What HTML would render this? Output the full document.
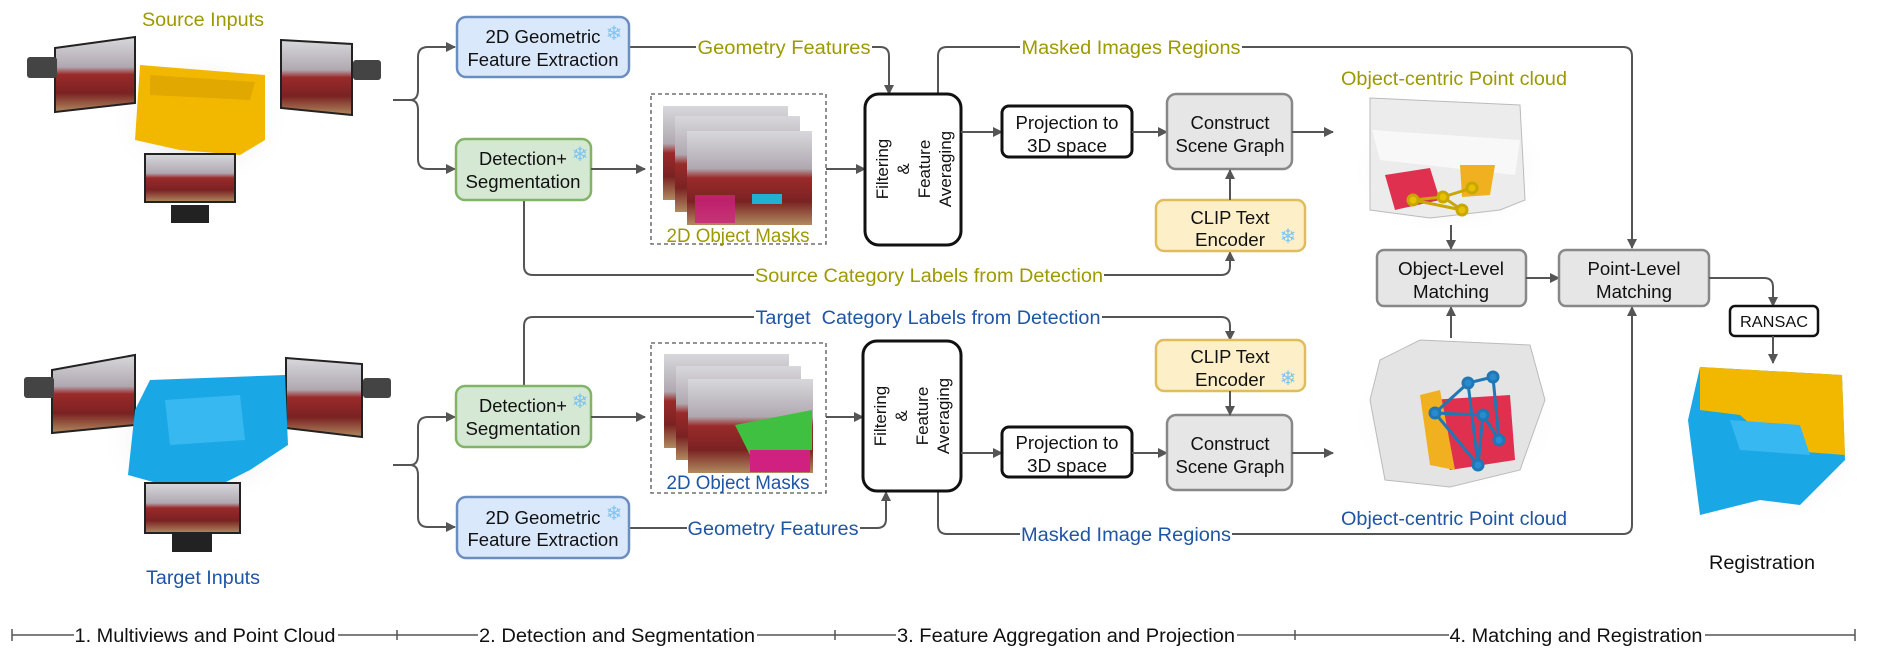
<!DOCTYPE html>
<html><head><meta charset="utf-8"><style>
html,body{margin:0;padding:0;background:#fff;}
svg{display:block;font-family:"Liberation Sans",Arial,sans-serif;}
.bx{font-size:18px;fill:#111;text-anchor:middle;}
.lb{font-size:19px;text-anchor:middle;}
.ol{fill:#9c9a00;}
.bl{fill:#1f55a5;}
.ln{fill:none;stroke:#555;stroke-width:2;}
.sf{font-size:20px;fill:#7fc4f0;text-anchor:middle;}
</style></head><body>
<svg width="1903" height="652" viewBox="0 0 1903 652" xmlns="http://www.w3.org/2000/svg">
<defs>
<marker id="a" markerWidth="10" markerHeight="10" refX="9" refY="5" orient="auto" markerUnits="userSpaceOnUse">
<path d="M0,0 L10,5 L0,10 z" fill="#555"/></marker>
<linearGradient id="photo" x1="0" y1="0" x2="0" y2="1">
<stop offset="0" stop-color="#d8d8dc"/><stop offset="0.4" stop-color="#b0a8b0"/><stop offset="0.5" stop-color="#9a2a2a"/><stop offset="0.75" stop-color="#7a2222"/><stop offset="1" stop-color="#b08a60"/></linearGradient>
<radialGradient id="sh"><stop offset="0" stop-color="#999" stop-opacity="0.6"/><stop offset="1" stop-color="#fff" stop-opacity="0"/></radialGradient>
</defs>

<!-- Source inputs -->
<text x="203" y="26" class="lb ol" textLength="122" lengthAdjust="spacingAndGlyphs">Source Inputs</text>
<ellipse cx="200" cy="120" rx="90" ry="70" fill="url(#sh)"/>
<polygon points="55,48 135,37 135,103 55,112" fill="url(#photo)" stroke="#222" stroke-width="2"/>
<rect x="27" y="57" width="30" height="21" rx="3" fill="#444"/>
<polygon points="281,40 352,44 352,115 281,108" fill="url(#photo)" stroke="#222" stroke-width="2"/>
<rect x="353" y="60" width="28" height="20" rx="3" fill="#444"/>
<polygon points="140,65 265,75 265,140 240,155 180,150 135,140" fill="#f2b800"/>
<polygon points="150,75 255,82 250,100 150,95" fill="#e0a800"/>
<rect x="145" y="154" width="90" height="48" fill="url(#photo)" stroke="#222" stroke-width="2"/>
<rect x="171" y="205" width="38" height="18" fill="#222"/>

<!-- Target inputs -->
<text x="203" y="584" class="lb bl" textLength="114" lengthAdjust="spacingAndGlyphs">Target Inputs</text>
<ellipse cx="200" cy="440" rx="100" ry="70" fill="url(#sh)"/>
<polygon points="52,370 135,355 135,425 52,433" fill="url(#photo)" stroke="#222" stroke-width="2"/>
<rect x="24" y="377" width="30" height="21" rx="3" fill="#444"/>
<polygon points="286,358 362,364 362,437 286,428" fill="url(#photo)" stroke="#222" stroke-width="2"/>
<rect x="363" y="378" width="28" height="20" rx="3" fill="#444"/>
<polygon points="150,380 285,375 288,445 250,470 200,495 128,475 135,410" fill="#1aa7e6"/>
<polygon points="165,400 240,395 245,440 170,445" fill="#38b8f0"/>
<rect x="145" y="483" width="95" height="50" fill="url(#photo)" stroke="#222" stroke-width="2"/>
<rect x="172" y="534" width="40" height="18" fill="#222"/>

<!-- braces -->
<path class="ln" d="M393,100 H410 Q418,100 418,90 V57 Q418,47 428,47 H455" marker-end="url(#a)"/>
<path class="ln" d="M410,100 Q418,100 418,110 V159 Q418,169 428,169 H455" marker-end="url(#a)"/>
<path class="ln" d="M393,465 H410 Q418,465 418,455 V427 Q418,417 428,417 H455" marker-end="url(#a)"/>
<path class="ln" d="M410,465 Q418,465 418,475 V517 Q418,527 428,527 H455" marker-end="url(#a)"/>

<!-- connectors -->
<path class="ln" d="M630,47 H880 Q889,47 889,56 V94" marker-end="url(#a)"/>
<path class="ln" d="M938,94 V56 Q938,47 947,47 H1623 Q1632,47 1632,56 V248" marker-end="url(#a)"/>
<path class="ln" d="M524,200 V266 Q524,275 533,275 H1221 Q1230,275 1230,266 V252" marker-end="url(#a)"/>
<path class="ln" d="M524,386 V326 Q524,317 533,317 H1221 Q1230,317 1230,326 V340" marker-end="url(#a)"/>
<path class="ln" d="M630,528 H877 Q886,528 886,519 V492" marker-end="url(#a)"/>
<path class="ln" d="M938,491 V525 Q938,534 947,534 H1623 Q1632,534 1632,525 V307" marker-end="url(#a)"/>
<g fill="#fff">
<rect x="696" y="37" width="176" height="20"/>
<rect x="1020" y="37" width="222" height="20"/>
<rect x="754" y="265" width="350" height="20"/>
<rect x="754" y="307" width="348" height="20"/>
<rect x="687" y="518" width="173" height="20"/>
<rect x="1020" y="524" width="212" height="20"/>
</g>
<text x="784" y="54" class="lb ol" textLength="173" lengthAdjust="spacingAndGlyphs">Geometry Features</text>
<text x="1131" y="54" class="lb ol" textLength="219" lengthAdjust="spacingAndGlyphs">Masked Images Regions</text>
<text x="929" y="282" class="lb ol" textLength="348" lengthAdjust="spacingAndGlyphs">Source Category Labels from Detection</text>
<text x="928" y="324" class="lb bl" textLength="345" lengthAdjust="spacingAndGlyphs" xml:space="preserve">Target  Category Labels from Detection</text>
<text x="773" y="535" class="lb bl" textLength="171" lengthAdjust="spacingAndGlyphs">Geometry Features</text>
<text x="1126" y="541" class="lb bl" textLength="210" lengthAdjust="spacingAndGlyphs">Masked Image Regions</text>

<!-- boxes top -->
<rect x="457" y="17" width="172" height="60" rx="9" fill="#dae8fc" stroke="#6c8ebf" stroke-width="2.5"/>
<text x="543" y="43" class="bx" textLength="115" lengthAdjust="spacingAndGlyphs">2D Geometric</text><text x="543" y="66" class="bx" textLength="151" lengthAdjust="spacingAndGlyphs">Feature Extraction</text>
<text x="614" y="40" class="sf">❄</text>
<rect x="456" y="139" width="135" height="61" rx="9" fill="#d5e8d4" stroke="#82b366" stroke-width="2.5"/>
<text x="523" y="165" class="bx" textLength="88" lengthAdjust="spacingAndGlyphs">Detection+</text><text x="523" y="188" class="bx" textLength="115" lengthAdjust="spacingAndGlyphs">Segmentation</text>
<text x="580" y="161" class="sf">❄</text>

<!-- boxes bottom -->
<rect x="456" y="386" width="135" height="61" rx="9" fill="#d5e8d4" stroke="#82b366" stroke-width="2.5"/>
<text x="523" y="412" class="bx" textLength="88" lengthAdjust="spacingAndGlyphs">Detection+</text><text x="523" y="435" class="bx" textLength="115" lengthAdjust="spacingAndGlyphs">Segmentation</text>
<text x="580" y="408" class="sf">❄</text>
<rect x="457" y="497" width="172" height="61" rx="9" fill="#dae8fc" stroke="#6c8ebf" stroke-width="2.5"/>
<text x="543" y="524" class="bx" textLength="115" lengthAdjust="spacingAndGlyphs">2D Geometric</text><text x="543" y="546" class="bx" textLength="151" lengthAdjust="spacingAndGlyphs">Feature Extraction</text>
<text x="614" y="520" class="sf">❄</text>

<!-- mask boxes -->
<rect x="651" y="94" width="175" height="150" fill="none" stroke="#555" stroke-width="1.3" stroke-dasharray="4,3"/>
<rect x="663" y="106" width="125" height="94" fill="url(#photo)"/>
<rect x="675" y="116" width="125" height="96" fill="url(#photo)"/>
<rect x="687" y="131" width="125" height="94" fill="url(#photo)"/>
<rect x="695" y="195" width="40" height="28" fill="#d02080" opacity="0.8"/>
<rect x="752" y="194" width="30" height="10" fill="#20b0d0"/>
<text x="738" y="242" class="lb ol" textLength="143" lengthAdjust="spacingAndGlyphs">2D Object Masks</text>
<rect x="651" y="343" width="175" height="150" fill="none" stroke="#555" stroke-width="1.3" stroke-dasharray="4,3"/>
<rect x="664" y="354" width="125" height="94" fill="url(#photo)"/>
<rect x="676" y="366" width="125" height="94" fill="url(#photo)"/>
<rect x="688" y="379" width="125" height="94" fill="url(#photo)"/>
<polygon points="735,425 812,410 812,450 750,455" fill="#40c040"/>
<rect x="750" y="450" width="60" height="22" fill="#d02080"/>
<text x="738" y="489" class="lb bl" textLength="143" lengthAdjust="spacingAndGlyphs">2D Object Masks</text>

<!-- arrows to masks and filtering -->
<path class="ln" d="M591,169 H645" marker-end="url(#a)"/>
<path class="ln" d="M826,169 H865" marker-end="url(#a)"/>
<path class="ln" d="M591,417 H645" marker-end="url(#a)"/>
<path class="ln" d="M826,417 H863" marker-end="url(#a)"/>

<!-- filtering boxes -->
<rect x="865" y="94" width="96" height="151" rx="14" fill="#fff" stroke="#111" stroke-width="3"/>
<g class="bx" style="font-size:17px">
<text transform="translate(888,169) rotate(-90)">Filtering</text>
<text transform="translate(909,169) rotate(-90)">&amp;</text>
<text transform="translate(930,169) rotate(-90)">Feature</text>
<text transform="translate(951,169) rotate(-90)">Averaging</text>
</g>
<rect x="863" y="341" width="98" height="150" rx="14" fill="#fff" stroke="#111" stroke-width="3"/>
<g class="bx" style="font-size:17px">
<text transform="translate(886,416) rotate(-90)">Filtering</text>
<text transform="translate(907,416) rotate(-90)">&amp;</text>
<text transform="translate(928,416) rotate(-90)">Feature</text>
<text transform="translate(949,416) rotate(-90)">Averaging</text>
</g>

<!-- projection / scene graph top -->
<path class="ln" d="M961,132 H1002" marker-end="url(#a)"/>
<rect x="1002" y="106" width="130" height="51" rx="7" fill="#fff" stroke="#111" stroke-width="3"/>
<text x="1067" y="129" class="bx" textLength="103" lengthAdjust="spacingAndGlyphs">Projection to</text><text x="1067" y="152" class="bx" textLength="80" lengthAdjust="spacingAndGlyphs">3D space</text>
<path class="ln" d="M1132,132 H1167" marker-end="url(#a)"/>
<rect x="1167" y="94" width="125" height="75" rx="9" fill="#e6e6e6" stroke="#888" stroke-width="2.5"/>
<text x="1230" y="129" class="bx" textLength="79" lengthAdjust="spacingAndGlyphs">Construct</text><text x="1230" y="152" class="bx" textLength="109" lengthAdjust="spacingAndGlyphs">Scene Graph</text>
<path class="ln" d="M1292,132 H1333" marker-end="url(#a)"/>
<rect x="1156" y="200" width="149" height="51" rx="8" fill="#fdf0c8" stroke="#e0bc5c" stroke-width="2.5"/>
<text x="1230" y="224" class="bx" textLength="79" lengthAdjust="spacingAndGlyphs">CLIP Text</text><text x="1230" y="246" class="bx" textLength="70" lengthAdjust="spacingAndGlyphs">Encoder</text>
<text x="1288" y="243" class="sf">❄</text>
<path class="ln" d="M1230,200 V170" marker-end="url(#a)"/>

<!-- bottom projection -->
<path class="ln" d="M961,453 H1002" marker-end="url(#a)"/>
<rect x="1002" y="427" width="130" height="50" rx="7" fill="#fff" stroke="#111" stroke-width="3"/>
<text x="1067" y="449" class="bx" textLength="103" lengthAdjust="spacingAndGlyphs">Projection to</text><text x="1067" y="472" class="bx" textLength="80" lengthAdjust="spacingAndGlyphs">3D space</text>
<path class="ln" d="M1132,453 H1167" marker-end="url(#a)"/>
<rect x="1167" y="415" width="125" height="75" rx="9" fill="#e6e6e6" stroke="#888" stroke-width="2.5"/>
<text x="1230" y="450" class="bx" textLength="79" lengthAdjust="spacingAndGlyphs">Construct</text><text x="1230" y="473" class="bx" textLength="109" lengthAdjust="spacingAndGlyphs">Scene Graph</text>
<path class="ln" d="M1292,453 H1333" marker-end="url(#a)"/>
<rect x="1156" y="340" width="149" height="51" rx="8" fill="#fdf0c8" stroke="#e0bc5c" stroke-width="2.5"/>
<text x="1230" y="363" class="bx" textLength="79" lengthAdjust="spacingAndGlyphs">CLIP Text</text><text x="1230" y="386" class="bx" textLength="70" lengthAdjust="spacingAndGlyphs">Encoder</text>
<text x="1288" y="385" class="sf">❄</text>
<path class="ln" d="M1230,391 V415" marker-end="url(#a)"/>

<!-- point clouds -->
<text x="1454" y="85" class="lb ol" textLength="226" lengthAdjust="spacingAndGlyphs">Object-centric Point cloud</text>
<ellipse cx="1450" cy="170" rx="100" ry="65" fill="url(#sh)"/>
<polygon points="1370,98 1520,105 1525,200 1500,210 1430,218 1370,210" fill="#ececec" stroke="#bbb"/>
<polygon points="1372,130 1520,140 1515,175 1380,160" fill="#f8f8f8"/>
<polygon points="1385,175 1430,168 1440,200 1395,210" fill="#e03050"/>
<polygon points="1460,165 1495,165 1490,195 1462,197" fill="#f0b020"/>
<g stroke="#c8a800" stroke-width="3" fill="#e8c000"><line x1="1413" y1="200" x2="1443" y2="197"/><line x1="1443" y1="197" x2="1472" y2="188"/><line x1="1443" y1="197" x2="1462" y2="210"/><line x1="1413" y1="200" x2="1462" y2="210"/>
<circle cx="1413" cy="200" r="5"/><circle cx="1443" cy="197" r="5"/><circle cx="1472" cy="188" r="5"/><circle cx="1462" cy="210" r="5"/></g>

<text x="1454" y="525" class="lb bl" textLength="226" lengthAdjust="spacingAndGlyphs">Object-centric Point cloud</text>
<ellipse cx="1455" cy="420" rx="105" ry="75" fill="url(#sh)"/>
<polygon points="1380,360 1420,340 1530,345 1545,400 1520,470 1450,487 1385,480 1370,400" fill="#e4e4e4" stroke="#bbb"/>
<polygon points="1430,400 1510,395 1515,460 1450,470" fill="#e03050"/>
<polygon points="1420,395 1440,390 1455,470 1430,465" fill="#f0b020"/>
<g stroke="#1f78b4" stroke-width="3" fill="#2a8ad0"><line x1="1435" y1="413" x2="1468" y2="383"/><line x1="1468" y1="383" x2="1493" y2="377"/><line x1="1435" y1="413" x2="1483" y2="415"/><line x1="1483" y1="415" x2="1499" y2="440"/><line x1="1435" y1="413" x2="1478" y2="465"/><line x1="1468" y1="383" x2="1478" y2="465"/><line x1="1493" y1="377" x2="1499" y2="440"/><line x1="1483" y1="415" x2="1478" y2="465"/>
<circle cx="1435" cy="413" r="5"/><circle cx="1468" cy="383" r="5"/><circle cx="1493" cy="377" r="5"/><circle cx="1483" cy="415" r="5"/><circle cx="1499" cy="440" r="5"/><circle cx="1478" cy="465" r="5"/></g>

<!-- matching -->
<path class="ln" d="M1451,225 V249" marker-end="url(#a)"/>
<path class="ln" d="M1451,338 V307" marker-end="url(#a)"/>
<rect x="1377" y="250" width="149" height="56" rx="7" fill="#e6e6e6" stroke="#888" stroke-width="2.5"/>
<text x="1451" y="275" class="bx" textLength="106" lengthAdjust="spacingAndGlyphs">Object-Level</text><text x="1451" y="298" class="bx" textLength="76" lengthAdjust="spacingAndGlyphs">Matching</text>
<path class="ln" d="M1526,278 H1559" marker-end="url(#a)"/>
<rect x="1559" y="250" width="150" height="56" rx="7" fill="#e6e6e6" stroke="#888" stroke-width="2.5"/>
<text x="1634" y="275" class="bx" textLength="93" lengthAdjust="spacingAndGlyphs">Point-Level</text><text x="1634" y="298" class="bx" textLength="76" lengthAdjust="spacingAndGlyphs">Matching</text>
<path class="ln" d="M1709,278 H1764 Q1773,278 1773,287 V306" marker-end="url(#a)"/>
<rect x="1730" y="306" width="88" height="30" rx="5" fill="#fff" stroke="#111" stroke-width="2.5"/>
<text x="1774" y="327" class="bx" style="font-size:16px" textLength="68" lengthAdjust="spacingAndGlyphs">RANSAC</text>
<path class="ln" d="M1773,336 V363" marker-end="url(#a)"/>

<!-- registration -->
<ellipse cx="1770" cy="450" rx="95" ry="75" fill="url(#sh)"/>
<polygon points="1700,367 1842,375 1845,460 1800,505 1760,500 1700,515 1688,420" fill="#1aa7e6"/>
<polygon points="1700,367 1842,375 1845,455 1780,450 1740,415 1700,410" fill="#f2b800"/>
<polygon points="1730,420 1800,425 1810,455 1740,450" fill="#38b8f0"/>
<text x="1762" y="569" class="bx" style="font-size:19px" textLength="106" lengthAdjust="spacingAndGlyphs">Registration</text>

<!-- timeline -->
<line x1="12" y1="635" x2="1855" y2="635" stroke="#555" stroke-width="1.5"/>
<g stroke="#555" stroke-width="1.5"><line x1="12" y1="629" x2="12" y2="641"/><line x1="397" y1="630" x2="397" y2="640"/><line x1="835" y1="630" x2="835" y2="640"/><line x1="1295" y1="630" x2="1295" y2="640"/><line x1="1855" y1="629" x2="1855" y2="641"/></g>
<g fill="#fff"><rect x="74" y="624" width="264" height="22"/><rect x="478" y="624" width="279" height="22"/><rect x="896" y="624" width="341" height="22"/><rect x="1449" y="624" width="256" height="22"/></g>
<g class="lb" style="fill:#111">
<text x="205" y="642" textLength="261" lengthAdjust="spacingAndGlyphs">1. Multiviews and Point Cloud</text>
<text x="617" y="642" textLength="276" lengthAdjust="spacingAndGlyphs">2. Detection and Segmentation</text>
<text x="1066" y="642" textLength="338" lengthAdjust="spacingAndGlyphs">3. Feature Aggregation and Projection</text>
<text x="1576" y="642" textLength="253" lengthAdjust="spacingAndGlyphs">4. Matching and Registration</text>
</g>
</svg>
</body></html>
